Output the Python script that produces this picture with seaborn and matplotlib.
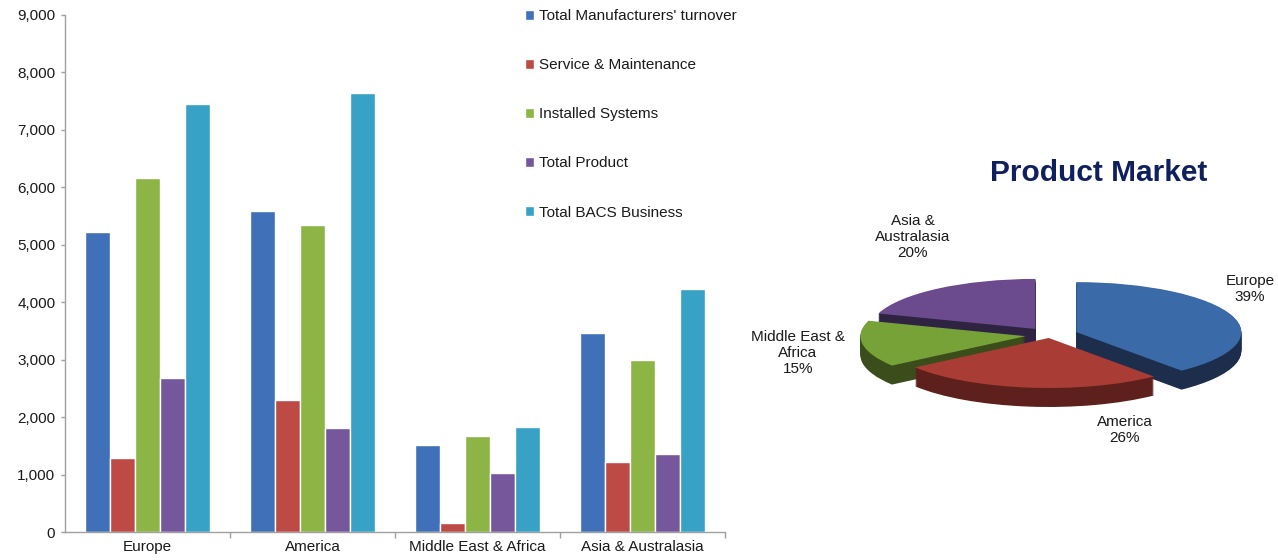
import numpy as np
import pandas as pd
import matplotlib
matplotlib.use('Agg')
import matplotlib.pyplot as plt
import matplotlib.ticker as mticker
import seaborn as sns

# bar chart data
regions = ['Europe', 'America', 'Middle East & Africa', 'Asia & Australasia']
series = ["Total Manufacturers' turnover", 'Service & Maintenance',
          'Installed Systems', 'Total Product', 'Total BACS Business']
turnover = [5220, 5580, 1520, 3470]
service = [1280, 2300, 160, 1220]
installed = [6170, 5340, 1670, 3000]
product = [2680, 1810, 1020, 1360]
bacs = [7450, 7640, 1830, 4230]
bar_colors = ['#3f70b8', '#be4a46', '#8db545', '#77579c', '#37a2c5']

# pie data
pie_labels = ['Europe', 'America', 'Middle East &\nAfrica', 'Asia &\nAustralasia']
pie_pct = [39, 26, 15, 20]
pie_explode = [0.17, 0.06, 0.15, 0.15]
pie_top = ['#3a6aa8', '#a93d36', '#77a238', '#6b4b8e']
pie_side = ['#1d2e4c', '#5e201c', '#3b4d1b', '#2f2342']

sns.set_style('white')
plt.rcParams['font.family'] = ['Liberation Sans', 'DejaVu Sans']
txt = '#1a1a1a'

rows = []
for s, vals in zip(series, [turnover, service, installed, product, bacs]):
    for r, v in zip(regions, vals):
        rows.append({'region': r, 'series': s, 'value': v})
df = pd.DataFrame(rows)

W, H = 1278, 560
fig = plt.figure(figsize=(W / 100, H / 100), dpi=100)

# ---- bar chart ----
ax = fig.add_axes([65 / W, 28 / H, 660 / W, 517 / H])
sns.barplot(data=df, x='region', y='value', hue='series', palette=bar_colors,
            saturation=1, width=0.76, ax=ax, errorbar=None)
ax.set_xlim(-0.5, 3.5)
ax.set_ylim(0, 9000)
ax.set_yticks(range(0, 9001, 1000))
ax.yaxis.set_major_formatter(mticker.FuncFormatter(lambda v, p: f'{int(v):,}'))
ax.set_xlabel('')
ax.set_ylabel('')
sns.despine(ax=ax)
for sp in ['left', 'bottom']:
    ax.spines[sp].set_color('#a0a0a0')
    ax.spines[sp].set_linewidth(1)
ax.tick_params(axis='y', length=3, width=1, color='#a0a0a0', pad=4,
               labelsize=11, labelcolor=txt, left=True)
ax.tick_params(axis='x', which='major', length=0, pad=6, labelsize=11, labelcolor=txt)
ax.set_xticks([0.5, 1.5, 2.5, 3.5], minor=True)
ax.tick_params(axis='x', which='minor', length=4, width=1, color='#a0a0a0', bottom=True)

h, l = ax.get_legend_handles_labels()
if ax.legend_:
    ax.legend_.remove()
fig.legend(h, l, loc='upper left', bbox_to_anchor=(525 / W, 1 - 9 / H),
           frameon=False, fontsize=11, labelcolor=txt, borderpad=0,
           borderaxespad=0, handlelength=0.62, handleheight=0.62,
           handletextpad=0.3, labelspacing=2.3)

# ---- 3D-looking pie ----
pax = fig.add_axes([760 / W, 90 / H, 518 / W, 280 / H])
depth = 0.38
for t in np.linspace(depth, 0, 26)[:-1]:
    pax.pie(pie_pct, explode=pie_explode, colors=pie_side, startangle=90,
            counterclock=False, center=(0, -t), wedgeprops=dict(linewidth=0))
pax.pie(pie_pct, explode=pie_explode, colors=pie_top, startangle=90,
        counterclock=False, center=(0, 0), wedgeprops=dict(linewidth=0))
pax.set_aspect('auto')
pax.set_xlim(-1.757, 1.382)
pax.set_ylim(-2.7, 2.9)
pax.axis('off')

label_pos = [(1250, 289), (1125, 430), (798, 353), (913, 237)]
for lab, pct, (px, py) in zip(pie_labels, pie_pct, label_pos):
    fig.text(px / W, 1 - py / H, f'{lab}\n{pct}%', ha='center', va='center',
             fontsize=11, color=txt, linespacing=1.15)

fig.text(1099 / W, 1 - 173 / H, 'Product Market', ha='center', va='center',
         fontsize=21.5, fontweight='bold', color='#10205e')

fig.savefig('out.png', dpi=100)
